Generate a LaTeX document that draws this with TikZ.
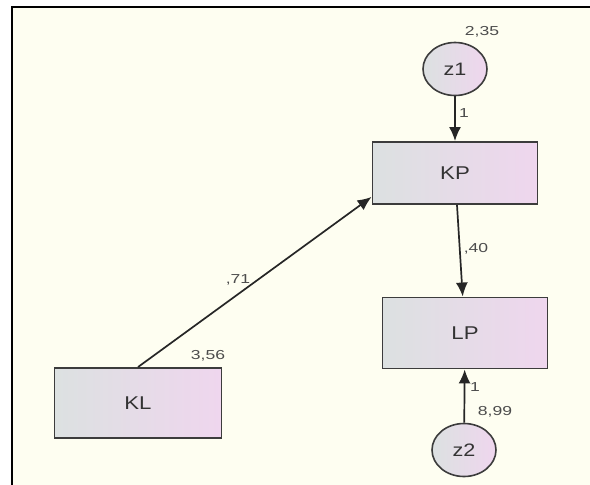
\documentclass[tikz,border=0pt]{standalone}
\usepackage{fontspec}
\setmainfont{Liberation Sans}
\newfontfamily\varfont[FakeStretch=1.2]{Liberation Sans}
\newfontfamily\estfont[FakeStretch=1.35]{Liberation Sans}
\usetikzlibrary{arrows.meta,shapes.geometric}

\definecolor{paper}{HTML}{FEFEF1}
\definecolor{boxgray}{HTML}{DCE1E1}
\definecolor{boxpink}{HTML}{EFD6EE}
\definecolor{rim}{HTML}{3C3C3C}

\tikzset{
  obs/.style={rectangle, draw=rim, line width=1.9pt, left color=boxgray, right color=boxpink,
    minimum width=165pt, minimum height=62pt, text=black!80, font=\varfont\fontsize{18.5}{20}\selectfont},
  err/.style={ellipse, draw=rim, line width=1.6pt, left color=boxgray, right color=boxpink,
    minimum width=64pt, minimum height=53pt, text=black!80, font=\varfont\fontsize{18}{20}\selectfont},
  reg/.style={-{Latex[length=14pt,width=12pt]}, line width=1.7pt, draw=black!85},
  est/.style={inner sep=1pt, text=black!70, font=\estfont\fontsize{13}{14}\selectfont}
}

\begin{document}
\begin{tikzpicture}[x=1pt,y=-1pt]
  \useasboundingbox (0,0) rectangle (590,485);
  \fill[paper] (11,6) rectangle (590,485);
  \draw[line width=2.5pt] (12,485) -- (12,7) -- (590,7);

  % variables
  \node[err] (z1) at (455,69) {z1};
  \node[obs] (KP) at (455,173) {KP};
  \node[obs, minimum height=71pt] (LP) at (465,333) {LP};
  \node[obs, minimum height=70pt, minimum width=167pt] (KL) at (138,403) {KL};
  \node[err] (z2) at (464,450) {z2};

  % paths
  \draw[reg] (z1) -- (KP);
  \draw[reg] (KP) -- (LP);
  \draw[reg] (z2) -- (LP);
  \draw[reg] (KL.north) -- (KP.196);

  % estimates
  \node[est] (vz1) at (482,32) {2,35};
  \node[est] (w1) at (464,113) {1};
  \node[est] (b40) at (476,249) {,40};
  \node[est] (b71) at (238,280) {,71};
  \node[est] (vkl) at (208,356) {3,56};
  \node[est] (w2) at (475,387) {1};
  \node[est] (vz2) at (495,412) {8,99};
\end{tikzpicture}
\end{document}
